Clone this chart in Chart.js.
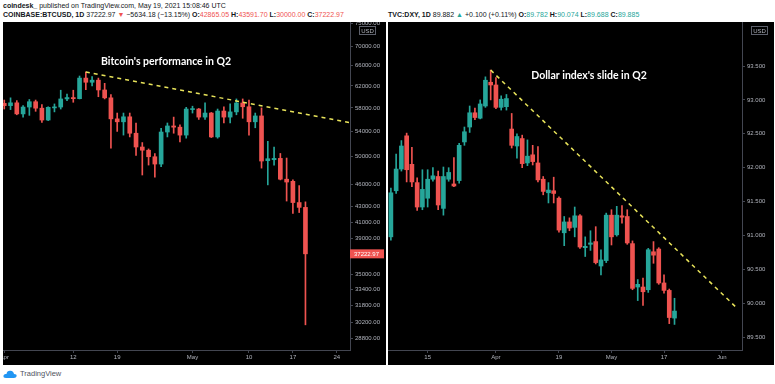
<!DOCTYPE html>
<html>
<head>
<meta charset="utf-8">
<script src="https://cdn.jsdelivr.net/npm/chart.js@4.4.0/dist/chart.umd.min.js"></script>
<style>
  body { margin: 0; background: #fff; width: 775px; height: 384px; position: relative; overflow: hidden; font-family: "Liberation Sans", Arial, sans-serif; }
  .hdr { position: absolute; font-size: 7px; color: #131722; white-space: nowrap; line-height: 9px; }
  .r { color: #ef5350; }
  .g { color: #26a69a; }
  .panel { position: absolute; top: 22px; height: 343px; background: #000; }
  #btcWrap { left: 3px; width: 383px; }
  #dxyWrap { left: 388px; width: 386px; }
  .logo { position: absolute; left: 3px; top: 369px; font-size: 7.5px; color: #50535e; display: flex; align-items: center; gap: 3px; }
</style>
</head>
<body>
<div class="hdr" style="left:3px;top:1px"><b>coindesk_</b> published on TradingView.com, May 19, 2021 15:08:46 UTC</div>
<div class="hdr" style="left:3px;top:10px"><b>COINBASE:BTCUSD, 1D</b> 37222.97 <span class="r">&#9660;</span> &minus;5634.18 (&minus;13.15%) <b>O:</b><span class="r">42865.05</span> <b>H:</b><span class="r">43591.70</span> <b>L:</b><span class="r">30000.00</span> <b>C:</b><span class="r">37222.97</span></div>
<div class="hdr" style="left:388px;top:10px"><b>TVC:DXY, 1D</b> 89.882 <span class="g">&#9650;</span> +0.100 (+0.11%) <b>O:</b><span class="g">89.782</span> <b>H:</b><span class="g">90.074</span> <b>L:</b><span class="g">89.688</span> <b>C:</b><span class="g">89.885</span></div>

<div class="panel" id="btcWrap"><canvas id="btc" width="383" height="343"></canvas></div>
<div class="panel" id="dxyWrap"><canvas id="dxy" width="386" height="343"></canvas></div>

<div class="logo">
  <svg width="14" height="8" viewBox="0 0 14 8"><path d="M3 8 Q0 8 0.5 5.5 Q1 3.5 3.5 4 Q4 0.5 7.5 0.8 Q10.5 1 11 4 Q14 4 13.6 6.3 Q13.2 8 11 8 Z" fill="#2196f3"/></svg>
  <span>TradingView</span>
</div>

<script>
// ---- Bitcoin (COINBASE:BTCUSD, daily) ----
const btcDays = [
  "Apr 1","Apr 2","Apr 3","Apr 4","Apr 5","Apr 6","Apr 7","Apr 8","Apr 9","Apr 10",
  "Apr 11","Apr 12","Apr 13","Apr 14","Apr 15","Apr 16","Apr 17","Apr 18","Apr 19","Apr 20",
  "Apr 21","Apr 22","Apr 23","Apr 24","Apr 25","Apr 26","Apr 27","Apr 28","Apr 29","Apr 30",
  "May 1","May 2","May 3","May 4","May 5","May 6","May 7","May 8","May 9","May 10",
  "May 11","May 12","May 13","May 14","May 15","May 16","May 17","May 18","May 19","May 20",
  "May 21","May 22","May 23","May 24","May 25","May 26"
];
const btcOpen = [58800,58400,58900,56950,58150,59100,57950,55900,58000,58150,
  59600,59850,59650,63500,62700,63100,61250,59800,56100,55600,
  56450,53700,51500,51000,50000,48900,53900,54900,54700,53400,
  57700,57800,56400,57100,53100,57450,56400,57300,58870,58200,
  55600,56600,49400,49550,49750,46700,46400,43500,42865.05];
const btcHigh = [59400,59800,59300,58400,59500,59400,58600,58200,58700,61200,
  60500,61200,63900,64700,63800,63500,62500,60400,57100,57100,
  57100,55400,52200,51200,50500,54500,55400,56400,55100,58100,
  58300,57900,58900,57200,57800,58200,58700,59600,59600,59400,
  57100,58000,52400,51500,50500,49800,46600,45800,43591.70];
const btcLow = [57800,57700,56800,56400,56700,57400,55500,55800,57300,57800,
  59300,59000,59600,61300,62000,60000,59600,51300,54000,53400,
  53100,50200,47300,48750,47000,48500,53100,53700,52300,52900,
  57100,56000,56000,53000,52900,55400,55400,56800,56200,53400,
  54600,48300,45900,48750,46600,43700,42100,42200,30000];
const btcClose = [58400,58900,56950,58150,59100,57950,55900,58100,58150,59600,
  59850,59650,63500,62700,63100,61250,59800,56100,55600,56450,
  53700,51500,51000,50000,48900,53900,54900,54700,53400,57800,
  57800,56400,57100,53100,57450,56400,57300,58870,58200,55600,
  56600,49350,49700,49750,46700,46300,43500,42865.05,37222.97];
const btcTickDays = ["Apr 1","Apr 12","Apr 19","May 1","May 10","May 17","May 24"];
const btcTickLabels = ["Apr","12","19","May","10","17","24"];
const btcPriceTicks = [75000,70000,66000,62000,58000,54000,50000,46000,43000,41000,39000,35000,33400,31800,30200,28800];
const btcTrendDays = ["Apr 14","May 26"];
const btcTrendValues = [64700, 55460];

// ---- US Dollar index (TVC:DXY, daily, trading days) ----
const dxyDays = [
  "Mar 4","Mar 5","Mar 8","Mar 9","Mar 10","Mar 11","Mar 12","Mar 15","Mar 16","Mar 17",
  "Mar 18","Mar 19","Mar 22","Mar 23","Mar 24","Mar 25","Mar 26","Mar 29","Mar 30","Mar 31",
  "Apr 1","Apr 2","Apr 5","Apr 6","Apr 7","Apr 8","Apr 9","Apr 12","Apr 13","Apr 14",
  "Apr 15","Apr 16","Apr 19","Apr 20","Apr 21","Apr 22","Apr 23","Apr 26","Apr 27","Apr 28",
  "Apr 29","Apr 30","May 3","May 4","May 5","May 6","May 7","May 10","May 11","May 12",
  "May 13","May 14","May 17","May 18","May 19","May 20","May 21","May 24","May 25","May 26",
  "May 27","May 28","May 31","Jun 1","Jun 2","Jun 3","Jun 4","Jun 7"
];
const dxyOpen = [90.98,91.66,91.98,92.47,92.05,91.78,91.42,91.55,91.83,91.87,
  91.40,91.83,91.76,91.81,92.38,92.60,92.81,92.73,92.91,93.26,
  93.22,92.89,92.90,92.57,92.32,92.43,92.07,92.19,92.07,91.83,
  91.63,91.66,91.55,91.04,91.20,91.12,91.29,90.82,90.87,90.91,
  90.55,90.63,91.30,91.01,91.29,91.28,90.88,90.24,90.24,90.20,
  90.76,90.80,90.30,90.19,89.782];
const dxyHigh = [91.70,92.20,92.40,92.51,92.30,91.85,91.97,91.97,92.00,91.95,
  92.01,92.00,92.15,92.36,92.60,92.91,92.88,93.00,93.34,93.44,
  93.33,93.06,93.08,92.80,92.50,92.48,92.41,92.33,92.31,91.87,
  91.78,91.86,91.57,91.28,91.26,91.42,91.31,90.98,91.07,91.13,
  90.79,91.33,91.38,91.43,91.44,91.38,90.92,90.35,90.37,90.81,
  90.91,90.82,90.42,90.21,90.074];
const dxyLow = [90.93,91.62,91.95,91.79,91.72,91.37,91.38,91.42,91.80,91.38,
  91.30,91.80,91.72,91.77,92.33,92.52,92.71,92.72,92.89,93.00,
  92.87,92.85,92.85,92.29,92.14,92.00,92.03,92.04,91.79,91.60,
  91.48,91.48,91.05,90.85,91.07,90.98,90.81,90.69,90.78,90.58,
  90.42,90.60,90.86,90.99,91.18,90.87,90.20,90.04,89.97,90.16,
  90.59,90.28,90.15,89.70,89.688];
const dxyClose = [91.63,91.98,92.32,91.97,91.79,91.42,91.68,91.83,91.88,91.45,
  91.87,91.93,91.73,92.33,92.53,92.81,92.74,92.94,93.29,93.22,
  92.89,93.01,93.02,92.33,92.46,92.06,92.17,92.09,91.82,91.65,
  91.67,91.62,91.08,91.20,91.11,91.29,90.83,90.84,90.89,90.60,
  90.64,91.30,90.98,91.30,91.27,90.89,90.22,90.28,90.17,90.79,
  90.71,90.30,90.19,89.79,89.885];
const dxyTickDays = ["Mar 15","Apr 1","Apr 19","May 3","May 17","Jun 1"];
const dxyTickLabels = ["15","Apr","19","May","17","Jun"];
const dxyPriceTicks = [93.5,93.0,92.5,92.0,91.5,91.0,90.5,90.0,89.5];
const dxyTrendDays = ["Mar 31","Jun 4"];
const dxyTrendValues = [93.44, 89.92];

const RED = "#ef5350";
const GREEN = "#26a69a";
const AXIS_TEXT = "#b2b5be";
const AXIS_LINE = "#434651";

function candleDatasets(open, high, low, close) {
  const colors = close.map((c, i) => (c >= open[i] ? GREEN : RED));
  return [
    {
      data: low.map((l, i) => ({ x: i, y: [l, high[i]] })),
      backgroundColor: colors,
      barThickness: 1,
      grouped: false,
      order: 2,
    },
    {
      data: open.map((o, i) => ({ x: i, y: [o, close[i]] })),
      backgroundColor: colors,
      barThickness: 4,
      minBarLength: 1,
      grouped: false,
      order: 1,
    },
  ];
}

function trendDataset(days, trendDays, trendValues) {
  return {
    type: "line",
    data: trendDays.map((d, i) => ({ x: days.indexOf(d), y: trendValues[i] })),
    borderColor: "#e8e35a",
    borderWidth: 1.5,
    borderDash: [4, 4],
    pointRadius: 0,
    fill: false,
    order: 0,
  };
}

function overlay(title, tx, ty, tag) {
  return {
    id: "overlay",
    afterDraw(chart) {
      const { ctx, chartArea } = chart;
      ctx.save();
      ctx.font = "bold 10.5px Lato";
      ctx.fillStyle = "#ffffff";
      ctx.textAlign = "center";
      ctx.textBaseline = "middle";
      ctx.fillText(title, tx, ty);

      // currency badge on the price scale
      const bx = chartArea.right + 9;
      ctx.fillStyle = "#000";
      ctx.fillRect(bx, 3, 17, 10);
      ctx.strokeStyle = "#5d606b";
      ctx.lineWidth = 1;
      ctx.strokeRect(bx + 0.5, 4.5, 16, 8);
      ctx.fillStyle = AXIS_TEXT;
      ctx.font = "6px 'Liberation Sans'";
      ctx.fillText("USD", bx + 8.5, 9);

      if (tag !== undefined) {
        const y = chart.scales.y.getPixelForValue(tag);
        ctx.fillStyle = RED;
        ctx.fillRect(chartArea.right, y - 4.5, 34, 9);
        ctx.fillStyle = "#fff";
        ctx.textAlign = "left";
        ctx.fillText(tag.toFixed(2), chartArea.right + 4, y + 0.5);
      }
      ctx.restore();
    },
  };
}

function makeChart(id, cfg) {
  return new Chart(document.getElementById(id), {
    type: "bar",
    data: { datasets: cfg.datasets },
    options: {
      responsive: false,
      animation: false,
      devicePixelRatio: 1,
      layout: { padding: 0 },
      plugins: { legend: { display: false }, tooltip: { enabled: false } },
      scales: {
        x: {
          type: "linear",
          position: "bottom",
          offset: false,
          min: cfg.xMin,
          max: cfg.xMax,
          grid: { offset: false, drawOnChartArea: false, drawTicks: true, tickLength: 3, color: AXIS_LINE },
          border: { display: true, color: AXIS_LINE },
          ticks: {
            color: AXIS_TEXT,
            font: { size: 6, family: "'Liberation Sans'" },
            padding: 1,
            maxRotation: 0,
            autoSkip: false,
            callback: (v, i) => cfg.tickLabels[i],
          },
          afterBuildTicks: (s) => {
            s.ticks = cfg.tickDays.map((d) => ({ value: cfg.days.indexOf(d) }));
          },
          afterFit: (s) => {
            s.height = 15;
            s.paddingLeft = 0;
            s.paddingRight = 0;
          },
        },
        y: {
          type: cfg.yType,
          position: "right",
          min: cfg.yMin,
          max: cfg.yMax,
          grid: { drawOnChartArea: false, drawTicks: true, tickLength: 3, color: AXIS_LINE },
          border: { display: true, color: AXIS_LINE },
          ticks: {
            color: AXIS_TEXT,
            font: { size: 6, family: "'Liberation Sans'" },
            padding: 2,
            autoSkip: false,
            callback: (v) => Number(v).toFixed(cfg.decimals),
          },
          afterBuildTicks: (s) => {
            s.ticks = cfg.yTicks.map((v) => ({ value: v }));
          },
          afterFit: (s) => {
            s.width = cfg.axisWidth;
            s.paddingTop = 0;
            s.paddingBottom = 0;
          },
        },
      },
    },
    plugins: [overlay(cfg.title, cfg.titleX, cfg.titleY, cfg.tag)],
  });
}

makeChart("btc", {
  datasets: [...candleDatasets(btcOpen, btcHigh, btcLow, btcClose), trendDataset(btcDays, btcTrendDays, btcTrendValues)],
  days: btcDays,
  tickDays: btcTickDays,
  tickLabels: btcTickLabels,
  xMin: -0.2,
  xMax: 55.1,
  yType: "logarithmic",
  yMin: 27790,
  yMax: 75300,
  yTicks: btcPriceTicks,
  decimals: 2,
  axisWidth: 36,
  title: "Bitcoin's performance in Q2",
  titleX: 163,
  titleY: 40,
  tag: btcClose[btcClose.length - 1],
});

makeChart("dxy", {
  datasets: [...candleDatasets(dxyOpen, dxyHigh, dxyLow, dxyClose), trendDataset(dxyDays, dxyTrendDays, dxyTrendValues)],
  days: dxyDays,
  tickDays: dxyTickDays,
  tickLabels: dxyTickLabels,
  xMin: -0.55,
  xMax: 66.85,
  yType: "linear",
  yMin: 89.311,
  yMax: 94.149,
  yTicks: dxyPriceTicks,
  decimals: 3,
  axisWidth: 32,
  title: "Dollar index's slide in Q2",
  titleX: 201,
  titleY: 54,
});
</script>
</body>
</html>
